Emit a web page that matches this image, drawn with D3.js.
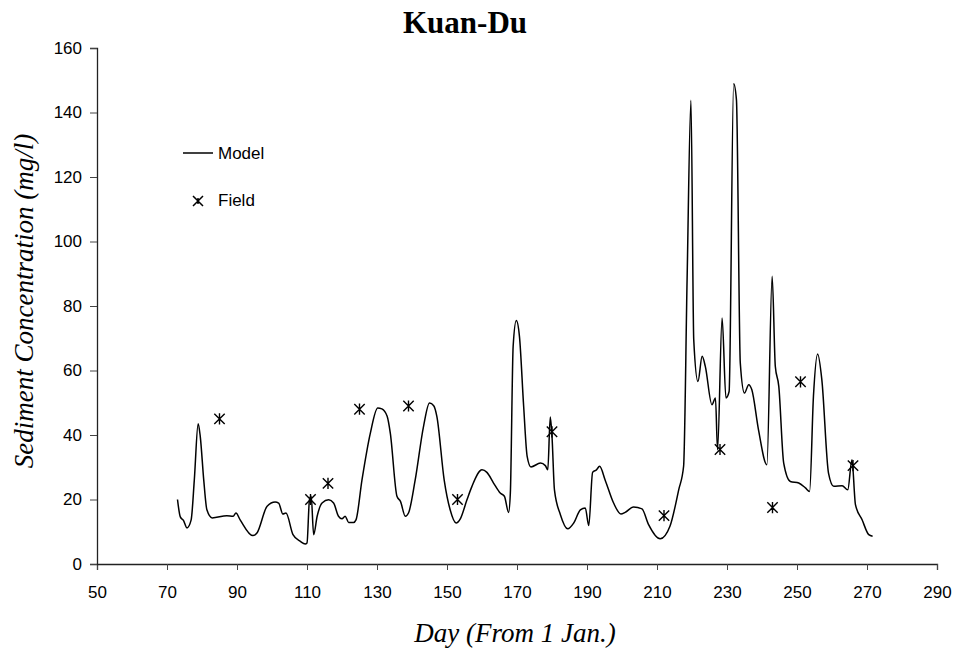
<!DOCTYPE html>
<html>
<head>
<meta charset="utf-8">
<script src="https://cdn.jsdelivr.net/npm/d3@7"></script>
<style>
  body { margin: 0; background: #fff; }
  svg { display: block; }
</style>
</head>
<body>
<div id="chart"></div>
<script>
// Model curve (day, mg/l)
const modelDays = [73, 73.8, 74.7, 75.7, 76.9, 77.8, 78.9, 79.5, 80.5, 81.4, 82.9, 87.1, 88.9, 89.7, 90.9, 94.5, 95.7, 98.6, 100.9, 101.9, 103.1, 104, 106, 108.1, 109.5, 110, 110.7, 111.2, 111.9, 112.9, 114.3, 116.2, 117.6, 119, 120, 120.9, 121.9, 123.3, 124, 125.7, 128.1, 130.2, 131.4, 132.9, 133.8, 135.7, 136.7, 138.1, 139, 140.9, 143.3, 145, 146.2, 147.1, 149.2, 150.9, 152.6, 153.8, 155.7, 157.1, 160, 161.4, 163.3, 165.2, 166.4, 167.6, 168.1, 168.9, 169.8, 170.7, 171.9, 172.9, 174, 176.7, 178.1, 178.8, 179.5, 180, 180.7, 182.4, 184.5, 186.2, 188.1, 189.5, 190.5, 191.6, 192.7, 193.6, 195.2, 197.6, 199.7, 200.9, 203.3, 205.7, 207.6, 210.9, 213.7, 216.2, 217.6, 218.6, 219.7, 220.5, 221.7, 222.9, 223.8, 225.7, 226.7, 227.3, 228.6, 229.7, 230.6, 231.9, 232.7, 233.8, 235, 236.2, 237.1, 239, 241.4, 242.9, 243.8, 244.8, 246.2, 248.1, 250.5, 252.4, 253.6, 254.7, 255.9, 257.1, 259, 260.5, 262.9, 264.5, 265.7, 266.7, 268.6, 270.5, 271.6];
const modelValues = [20, 14.6, 13.5, 11.2, 13.7, 26, 43.5, 39.6, 26, 16.8, 14.3, 15, 14.8, 15.8, 13.7, 8.8, 9.6, 17.9, 19.2, 18.9, 15.5, 15.8, 9.1, 7.0, 6.2, 6.5, 19.9, 21, 9.1, 14.8, 18.9, 19.9, 18.9, 14.8, 14, 14.8, 12.9, 12.9, 13.7, 26, 40.6, 48.4, 48.1, 45.8, 40.6, 21, 19.4, 14.8, 15.8, 26, 42.7, 49.9, 49.1, 45.8, 26, 16.8, 12.7, 14, 19.9, 24, 29.2, 28.4, 25.1, 22, 21, 16, 22, 67.5, 75.5, 70.6, 48.9, 33.4, 30.1, 31.3, 30.5, 29.2, 45.6, 39.6, 23, 15.3, 10.9, 12.7, 16.8, 17.4, 11.9, 28.4, 29.2, 30.3, 26, 18.9, 15.5, 16, 17.7, 17.1, 12.2, 7.8, 11.7, 23, 30.3, 88.2, 143.8, 69.5, 56.6, 64.4, 61.3, 49.4, 51.5, 35.4, 76.3, 51.5, 53.5, 148.9, 143.9, 62.3, 53, 55.6, 54, 41.6, 30.8, 89.2, 61.3, 55.1, 31.3, 25.6, 25.1, 23.6, 22.5, 52, 65.1, 57.1, 28.2, 24.1, 24.3, 23, 32.3, 18.4, 13.7, 9.1, 8.6];

// Field measurements
const fieldDays = [85, 111, 116, 125, 139, 153, 180, 212, 228, 243, 251, 266];
const fieldValues = [45, 20, 25, 48, 49, 20, 41, 15, 35.5, 17.5, 56.5, 30.5];

const xTicks = [50, 70, 90, 110, 130, 150, 170, 190, 210, 230, 250, 270, 290];
const yTicks = [0, 20, 40, 60, 80, 100, 120, 140, 160];

const width = 955, height = 648;
const margin = { top: 48, right: 18, bottom: 84, left: 97 };

const svg = d3.select('#chart').append('svg')
    .attr('width', width)
    .attr('height', height);

const x = d3.scaleLinear().domain([50, 290]).range([margin.left, width - margin.right]);
const y = d3.scaleLinear().domain([0, 160]).range([height - margin.bottom, margin.top]);

// Axes
const xAxis = svg.append('g')
    .attr('transform', `translate(0,${y(0)})`)
    .call(d3.axisBottom(x).tickValues(xTicks).tickSizeOuter(0).tickSize(6).tickPadding(16));
const yAxis = svg.append('g')
    .attr('transform', `translate(${x(50)},0)`)
    .call(d3.axisLeft(y).tickValues(yTicks).tickSizeOuter(0).tickSize(7).tickPadding(8));

[xAxis, yAxis].forEach(a => {
    a.selectAll('text')
        .attr('font-family', 'Arial, "Liberation Sans", sans-serif')
        .attr('font-size', '17px')
        .attr('fill', '#000');
    a.selectAll('line').attr('stroke', '#444');
    a.select('.domain').attr('stroke', '#222').attr('stroke-width', 1.3);
});

// Model line
const modelData = modelDays.map((d, i) => ({ day: d, value: modelValues[i] }));
const line = d3.line()
    .x(d => x(d.day))
    .y(d => y(d.value))
    .curve(d3.curveMonotoneX);

svg.append('path')
    .datum(modelData)
    .attr('fill', 'none')
    .attr('stroke', '#000')
    .attr('stroke-width', 1.5)
    .attr('d', line);

// Star marker (x with vertical stroke)
const starPath = (s, v) => `M${-s},${-s}L${s},${s}M${-s},${s}L${s},${-s}M0,${-v}L0,${v}`;

svg.append('g')
    .selectAll('path')
    .data(fieldDays.map((d, i) => ({ day: d, value: fieldValues[i] })))
    .enter().append('path')
    .attr('transform', d => `translate(${x(d.day)},${y(d.value)})`)
    .attr('d', starPath(5.2, 5.6))
    .attr('stroke', '#000')
    .attr('stroke-width', 1.4)
    .attr('fill', 'none');

// Legend
const legend = svg.append('g').attr('font-family', 'Arial, "Liberation Sans", sans-serif').attr('font-size', '17px');
legend.append('line')
    .attr('x1', 183).attr('x2', 213).attr('y1', 153).attr('y2', 153)
    .attr('stroke', '#000').attr('stroke-width', 1.5);
legend.append('text').attr('x', 218).attr('y', 158.5).text('Model');
legend.append('path')
    .attr('transform', 'translate(198,201)')
    .attr('d', starPath(5, 3))
    .attr('stroke', '#000').attr('stroke-width', 1.5);
legend.append('text').attr('x', 218).attr('y', 206).text('Field');

// Title and axis labels
svg.append('text')
    .attr('x', 465).attr('y', 33)
    .attr('text-anchor', 'middle')
    .attr('font-family', '"Liberation Serif", "Times New Roman", serif')
    .attr('font-weight', 'bold')
    .attr('font-size', '31px')
    .text('Kuan-Du');

svg.append('text')
    .attr('x', 515).attr('y', 642)
    .attr('text-anchor', 'middle')
    .attr('font-family', '"Liberation Serif", "Times New Roman", serif')
    .attr('font-style', 'italic')
    .attr('font-size', '27px')
    .text('Day (From 1 Jan.)');

svg.append('text')
    .attr('transform', 'translate(33,301) rotate(-90)')
    .attr('text-anchor', 'middle')
    .attr('font-family', '"Liberation Serif", "Times New Roman", serif')
    .attr('font-style', 'italic')
    .attr('font-size', '27px')
    .text('Sediment Concentration (mg/l)');
</script>
</body>
</html>
